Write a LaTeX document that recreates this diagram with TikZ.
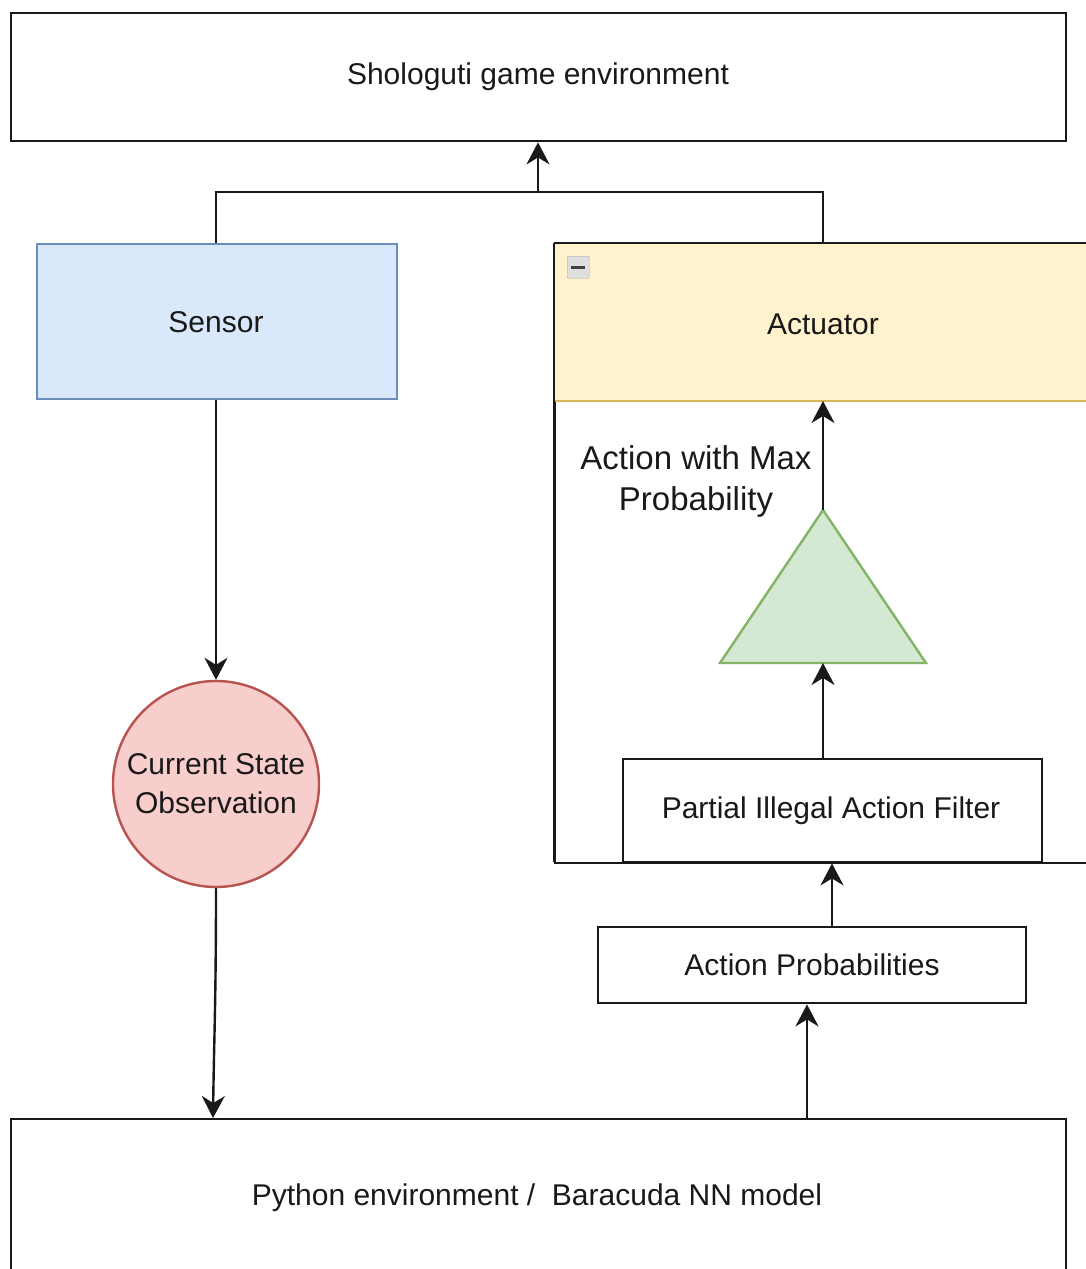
\documentclass[tikz,border=0pt]{standalone}
\usepackage{fontspec}
\setmainfont{Liberation Sans}
\usetikzlibrary{arrows.meta}
\definecolor{blueFill}{HTML}{DAE8FC}
\definecolor{blueLine}{HTML}{6C8EBF}
\definecolor{redFill}{HTML}{F8CECC}
\definecolor{redLine}{HTML}{B85450}
\definecolor{greenFill}{HTML}{D5E8D4}
\definecolor{greenLine}{HTML}{82B366}
\definecolor{yellowFill}{HTML}{FFF2CC}
\definecolor{yellowLine}{HTML}{D6B656}
\tikzset{
  box/.style={draw=black!90, line width=2.4pt, fill=white, inner sep=0pt},
  conn/.style={draw=black!90, line width=2.4pt, -{Stealth[length=22pt,width=23pt,inset=7pt]}},
  plainline/.style={draw=black!90, line width=2.4pt},
  lbl/.style={font=\fontsize{30pt}{39pt}\selectfont, align=center, text=black!90},
}
\begin{document}
\begin{tikzpicture}[x=1pt,y=-1pt]
\useasboundingbox (0,0) rectangle (1086,1269);
\begin{scope}
\clip (0,0) rectangle (1086,1269);

% environment boxes
\node[box, minimum width=1055pt, minimum height=128pt, anchor=north west] (env) at (10,12) {};
\node[lbl] (envtxt) at (538,77) {Shologuti game environment};
\node[box, minimum width=1055pt, minimum height=200pt, anchor=north west] (py) at (10,1118) {};
\node[lbl] (pytxt) at (537,1198) {Python environment /\ \ Baracuda NN model};

% actuator container
\node[box, minimum width=600pt, minimum height=619pt, anchor=north west] (act) at (554,243) {};
\fill[yellowFill] (555,244) rectangle (1100,401);
\draw[yellowLine, line width=2.4pt] (555,401) -- (1100,401);
\draw[black!90, line width=2.4pt] (554,243) -- (1100,243);
\draw[black!90, line width=2.4pt] (554,243) -- (554,862);
\node[lbl] (acttxt) at (823,324) {Actuator};
\coordinate (acthead) at (823,401);
\coordinate (acttop) at (823,243);
% collapse icon
\node[draw=gray!70, fill=gray!25, rounded corners=1pt, minimum size=22pt, inner sep=0pt, anchor=north west] (collapse) at (567,256) {};
\draw[black!75, line width=3pt] (571,267) -- (585,267);

% sensor
\node[draw=blueLine, fill=blueFill, line width=2.4pt, minimum width=360pt, minimum height=155pt, anchor=north west, inner sep=0pt] (sensor) at (36,243) {};
\node[lbl] at (216,322) {Sensor};

% observation circle
\node[circle, draw=redLine, fill=redFill, line width=2.4pt, minimum size=206pt, inner sep=0pt, lbl] (obs) at (216,784) {Current State\\Observation};

% max probability selector
\path[draw=greenLine, fill=greenFill, line width=2.4pt] (823,510) coordinate (tri top) -- (926,663) -- (720,663) -- cycle;
\coordinate (tri base) at (823,663);
\node[lbl, font=\fontsize{33pt}{41pt}\selectfont] (maxlbl) at (696,481) {Action with Max\\Probability};

% filter and probabilities
\node[box, minimum width=419pt, minimum height=103pt, anchor=north west] (filter) at (622,758) {};
\node[lbl] at (831,811) {Partial Illegal Action Filter};
\node[box, minimum width=428pt, minimum height=76pt, anchor=north west] (probs) at (597,926) {};
\node[lbl] at (812,965) {Action Probabilities};

% connectors
\draw[plainline] (sensor.north -| obs.north) |- (538,192) -| (acttop);
\draw[conn] (538,192) -- (env.south -| 538,0);
\draw[conn] (sensor.south -| obs.north) -- (obs.north);
\draw[conn] (obs.south) .. controls (216,1000) and (214,1040) .. (py.north -| 213,0);
\draw[conn] (tri top) -- (acthead);
\draw[conn] (filter.north -| 823,0) -- (tri base);
\draw[conn] (probs.north -| 832,0) -- (filter.south -| 832,0);
\draw[conn] (py.north -| 807,0) -- (probs.south -| 807,0);
\end{scope}
\end{tikzpicture}
\end{document}
